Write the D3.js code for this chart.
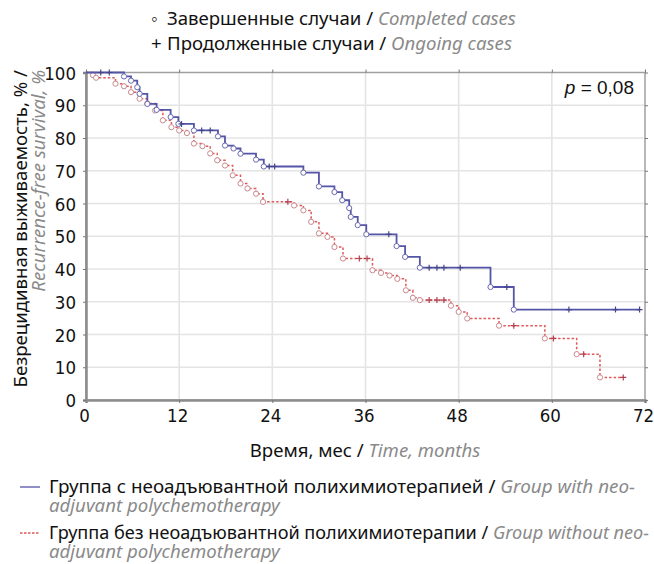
<!DOCTYPE html>
<html>
<head>
<meta charset="utf-8">
<script src="https://cdn.jsdelivr.net/npm/d3@7/dist/d3.min.js"></script>
<style>
  body { margin: 0; background: #fff; }
  svg text { font-family: "Noto Sans", sans-serif; fill: #111; font-size: 18.6px; }
  .en { fill: #8a8a8a; font-style: italic; }
  .tick text { font-family: "Liberation Sans Narrow", "DejaVu Sans Condensed", sans-serif; font-size: 18.5px; fill: #111; }
</style>
</head>
<body>
<svg id="chart" width="654" height="564"></svg>
<script>
'use strict';

const xTicks = [0, 12, 24, 36, 48, 60, 72];
const yTicks = [0, 10, 20, 30, 40, 50, 60, 70, 80, 90, 100];

// group with neoadjuvant chemo: event times / survival after event, censored times
const neoEventT = [4.9, 5.8, 6.6, 6.9, 7.9, 9.1, 10.9, 11.9, 13.9, 17.0, 17.9, 19.0, 19.9, 21.9, 22.9, 28.0, 30.0, 32.0, 33.0, 33.9, 34.1, 35.0, 36.1, 40.0, 41.1, 43.0, 52.1, 55.1];
const neoEventS = [98.8, 97.5, 95.5, 93.5, 90.4, 88.6, 86.4, 84.3, 82.3, 80.5, 77.7, 76.8, 75.2, 73.4, 71.3, 69.4, 65.2, 63.5, 61.0, 58.6, 55.9, 53.4, 50.6, 47.0, 43.7, 40.4, 34.5, 27.6];
const neoCensT = [1.9, 3.0, 12.3, 14.9, 16.0, 23.6, 24.3, 39.0, 44.2, 45.2, 46.1, 48.2, 54.2, 62.2, 68.2, 71.3];

// group without neoadjuvant chemo
const noEventT = [0.9, 1.3, 3.8, 4.9, 5.8, 6.9, 7.9, 8.9, 9.9, 11.0, 12.0, 13.0, 13.9, 15.0, 16.0, 16.9, 17.9, 18.9, 19.9, 20.8, 21.9, 22.8, 26.8, 28.0, 29.0, 30.0, 31.1, 32.0, 33.1, 36.9, 38.0, 39.1, 40.1, 41.2, 42.1, 43.0, 47.0, 48.0, 49.1, 53.2, 59.1, 63.2, 66.2];
const noEventS = [99.2, 98.4, 96.6, 95.8, 94.0, 92.0, 90.5, 88.4, 85.4, 83.3, 82.3, 81.5, 78.3, 77.5, 75.3, 73.2, 71.6, 68.6, 66.1, 64.6, 63.0, 60.5, 59.4, 57.9, 54.4, 50.9, 49.8, 46.7, 43.2, 39.6, 38.8, 38.0, 37.0, 33.5, 31.2, 30.5, 28.8, 26.9, 24.9, 22.7, 18.8, 14.0, 6.9];
const noCensT = [26.0, 35.2, 36.2, 44.2, 45.2, 46.1, 55.1, 60.2, 64.1, 69.2];

const blue = "#5454a8";
const red = "#e0585a";

const svg = d3.select("#chart");

const x = d3.scaleLinear().domain([0, 72]).range([86, 645]);
const y = d3.scaleLinear().domain([0, 100]).range([400, 72.5]);

// grid
svg.append("g")
  .selectAll("line")
  .data(xTicks.slice(1, -1))
  .enter().append("line")
  .attr("x1", d => x(d)).attr("x2", d => x(d))
  .attr("y1", y(100)).attr("y2", y(0))
  .attr("stroke", "#e4e4e4").attr("stroke-width", 1.6);
svg.append("g")
  .selectAll("line")
  .data(yTicks.slice(1, -1))
  .enter().append("line")
  .attr("x1", x(0)).attr("x2", x(72))
  .attr("y1", d => y(d)).attr("y2", d => y(d))
  .attr("stroke", "#e4e4e4").attr("stroke-width", 1.6);

// frame
svg.append("rect")
  .attr("x", x(0)).attr("y", y(100))
  .attr("width", x(72) - x(0)).attr("height", y(0) - y(100))
  .attr("fill", "none").attr("stroke", "#a0a0a0").attr("stroke-width", 1.5);

// axes
const xAxis = svg.append("g")
  .attr("transform", `translate(0,${y(0)})`)
  .call(d3.axisBottom(x).tickValues(xTicks).tickSize(3).tickPadding(6));
const yAxis = svg.append("g")
  .attr("transform", `translate(${x(0)},0)`)
  .call(d3.axisLeft(y).tickValues(yTicks).tickSize(3).tickPadding(7));
[xAxis, yAxis].forEach(g => {
  g.select(".domain").attr("stroke", "#8c8c8c").attr("stroke-width", 2.5);
  g.selectAll(".tick line").attr("stroke", "#777");
});
xAxis.selectAll(".tick text").attr("dx", -2);
yAxis.selectAll(".tick text").attr("dy", "0.36em");
// small ticks on top and right edges
svg.append("g").attr("transform", `translate(0,${y(100)})`)
  .call(d3.axisTop(x).tickValues(xTicks).tickSize(3).tickFormat(""))
  .call(g => g.select(".domain").remove())
  .call(g => g.selectAll(".tick line").attr("stroke", "#777"));
svg.append("g").attr("transform", `translate(${x(72)},0)`)
  .call(d3.axisRight(y).tickValues(yTicks).tickSize(3).tickFormat(""))
  .call(g => g.select(".domain").remove())
  .call(g => g.selectAll(".tick line").attr("stroke", "#777"));

// step curves
function stepPoints(evT, evS, censT) {
  const pts = [[0, 100]];
  evT.forEach((t, i) => pts.push([t, evS[i]]));
  pts.push([d3.max(censT.concat(evT)), evS[evS.length - 1]]);
  return pts;
}
function survAt(evT, evS, t) {
  const i = d3.bisectRight(evT, t) - 1;
  return i < 0 ? 100 : evS[i];
}
const line = d3.line().x(d => x(d[0])).y(d => y(d[1])).curve(d3.curveStepAfter);

function drawGroup(evT, evS, censT, color, width, dash, circStroke, plusStroke) {
  const g = svg.append("g");
  g.append("path")
    .datum(stepPoints(evT, evS, censT))
    .attr("fill", "none")
    .attr("stroke", color)
    .attr("stroke-width", width)
    .attr("stroke-dasharray", dash)
    .attr("d", line);
  g.selectAll("circle")
    .data(evT.map((t, i) => [t, evS[i]]))
    .enter().append("circle")
    .attr("cx", d => x(d[0])).attr("cy", d => y(d[1]))
    .attr("r", 2.6)
    .attr("fill", "#fff")
    .attr("stroke", circStroke)
    .attr("stroke-width", 1);
  g.selectAll("path.plus")
    .data(censT)
    .enter().append("path")
    .attr("class", "plus")
    .attr("d", t => {
      const cx = x(t), cy = y(survAt(evT, evS, t));
      return `M${cx - 3},${cy}H${cx + 3}M${cx},${cy - 3}V${cy + 3}`;
    })
    .attr("stroke", plusStroke)
    .attr("stroke-width", 1.2);
}
drawGroup(noEventT, noEventS, noCensT, red, 1.5, "2.5,2", "#c98a8e", "#b04050");
drawGroup(neoEventT, neoEventS, neoCensT, blue, 1.8, null, "#6b6bb0", "#44448a");

// p value
const pt = svg.append("text").attr("x", 634).attr("y", 94).attr("text-anchor", "end")
  .style("font-family", "'Liberation Sans Narrow', sans-serif").style("font-size", "19px");
pt.append("tspan").style("font-style", "italic").text("p");
pt.append("tspan").text(" = 0,08");

// top legend
const topSym = ["◦", "+"];
const topRu = ["Завершенные случаи", "Продолженные случаи"];
const topEn = ["Completed cases", "Ongoing cases"];
topRu.forEach((ru, i) => {
  const by = 25 + i * 25;
  svg.append("text").attr("x", 151).attr("y", by).text(topSym[i]);
  const t = svg.append("text").attr("x", 167).attr("y", by);
  t.append("tspan").text(ru + " / ");
  t.append("tspan").attr("class", "en").text(topEn[i]);
});

// x title
const xt = svg.append("text").attr("x", 365).attr("y", 457).attr("text-anchor", "middle");
xt.append("tspan").text("Время, мес / ");
xt.append("tspan").attr("class", "en").text("Time, months");

// y title
svg.append("text").attr("transform", "translate(27,70) rotate(-90)")
  .attr("text-anchor", "end")
  .text("Безрецидивная выживаемость, % /");
svg.append("text").attr("transform", "translate(45,70) rotate(-90)")
  .attr("text-anchor", "end").attr("class", "en")
  .text("Recurrence-free survival, %");

// bottom legend
const botRu = ["Группа с неоадъювантной полихимиотерапией / ", "Группа без неоадъювантной полихимиотерапии / "];
const botEn1 = ["Group with neo-", "Group without neo-"];
const botEn2 = ["adjuvant polychemotherapy", "adjuvant polychemotherapy"];
const botWidth = [586, 600];
const botColor = [blue, red];
const botDash = [null, "2.5,1.5"];
botRu.forEach((ru, i) => {
  const y0 = 493 + i * 46;
  svg.append("line").attr("x1", 20).attr("x2", 40).attr("y1", y0 - 6).attr("y2", y0 - 6)
    .attr("stroke", botColor[i]).attr("stroke-width", 1.3).attr("stroke-dasharray", botDash[i]);
  const t = svg.append("text").attr("x", 49).attr("y", y0)
    .attr("textLength", botWidth[i]).attr("lengthAdjust", "spacingAndGlyphs");
  t.append("tspan").text(ru);
  t.append("tspan").attr("class", "en").text(botEn1[i]);
  svg.append("text").attr("x", 49).attr("y", y0 + 19).attr("class", "en").text(botEn2[i]);
});
</script>
</body>
</html>
